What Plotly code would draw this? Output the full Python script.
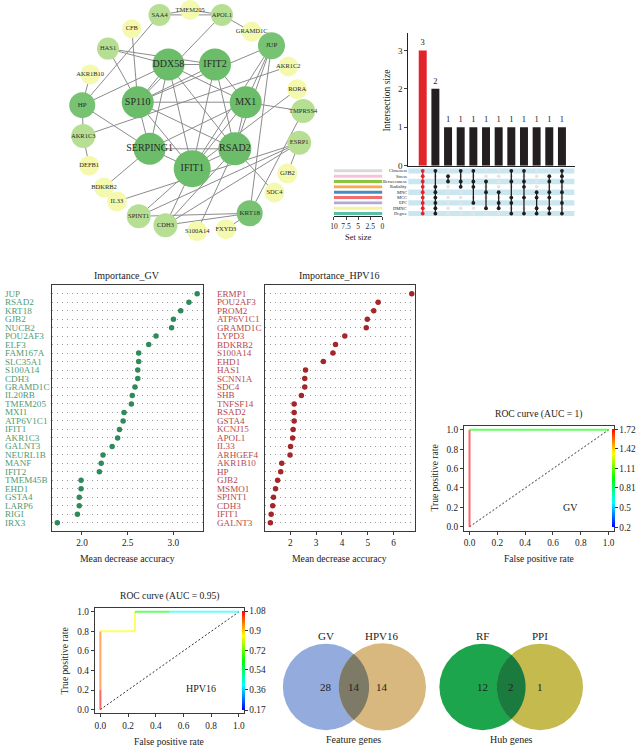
import numpy as np
import plotly.graph_objects as go
from plotly.colors import sample_colorscale

W, H = 640, 751
SERIF = "Liberation Serif"
INK = "#222222"

# ---------------- data ----------------
# PPI network (layout positions in panel pixels)
net_nodes = ["SAA4", "TMEM205", "APOL1", "CFB", "GRAMD1C", "HAS1", "JUP", "DDX58", "IFIT2",
             "AKR1B10", "AKR1C2", "RORA", "HP", "SP110", "MX1", "TMPRSS4", "AKR1C3", "SERPING1",
             "RSAD2", "ESRP1", "IFIT1", "DEFB1", "GJB2", "BDKRB2", "SDC4", "IL33", "SPINT1",
             "KRT18", "CDH3", "FXYD3", "S100A14"]
net_x = [157, 188, 220, 129, 250, 105, 270, 166, 213, 87, 287, 296, 79, 135, 244, 302, 80, 147,
         233, 298, 190, 86, 286, 101, 273, 114, 136, 248, 163, 224, 195]
net_y = [14, 9, 14, 28, 31, 48, 45, 64, 64, 74, 66, 89, 105, 102, 102, 111, 136, 149,
         149, 143, 169, 166, 174, 188, 193, 202, 217, 214, 226, 230, 232]
net_level = [1, 0, 1, 0, 0, 1, 2, 3, 3, 0, 0, 0, 2, 3, 3, 1, 1, 3, 3, 1, 3, 0, 0, 0, 0, 0, 1, 2, 1, 0, 0]
net_r = [11, 10, 11, 9.5, 10, 11, 13.5, 16, 16, 10, 10, 10, 13, 16, 16, 12, 12, 16,
         16.5, 12, 18.5, 10, 10, 10, 10, 10, 12, 13, 12, 10, 10]
net_edges = [
    ("SAA4", "TMEM205"), ("TMEM205", "APOL1"), ("SAA4", "APOL1"), ("APOL1", "GRAMD1C"),
    ("SAA4", "HP"), ("APOL1", "SP110"), ("CFB", "SP110"), ("HAS1", "IFIT2"), ("HAS1", "DDX58"),
    ("HAS1", "SP110"), ("AKR1B10", "HP"), ("HP", "DDX58"), ("HP", "SERPING1"), ("HP", "AKR1C3"),
    ("AKR1C3", "DEFB1"), ("AKR1C3", "AKR1C2"), ("JUP", "MX1"), ("JUP", "RSAD2"), ("JUP", "IFIT1"),
    ("JUP", "KRT18"), ("JUP", "SP110"), ("DDX58", "IFIT2"), ("DDX58", "SP110"), ("DDX58", "MX1"),
    ("DDX58", "RSAD2"), ("DDX58", "IFIT1"), ("DDX58", "SERPING1"), ("IFIT2", "SP110"),
    ("IFIT2", "MX1"), ("IFIT2", "RSAD2"), ("IFIT2", "IFIT1"), ("SP110", "MX1"), ("SP110", "RSAD2"),
    ("SP110", "IFIT1"), ("SP110", "SERPING1"), ("MX1", "TMPRSS4"), ("MX1", "RSAD2"),
    ("MX1", "IFIT1"), ("MX1", "SERPING1"), ("RORA", "IFIT1"), ("SERPING1", "RSAD2"),
    ("SERPING1", "IFIT1"), ("SERPING1", "BDKRB2"), ("RSAD2", "IFIT1"), ("RSAD2", "SDC4"),
    ("RSAD2", "S100A14"), ("RSAD2", "CDH3"), ("ESRP1", "SPINT1"), ("ESRP1", "CDH3"),
    ("ESRP1", "IL33"), ("TMPRSS4", "KRT18"), ("IFIT1", "SPINT1"), ("IFIT1", "CDH3"),
    ("SPINT1", "KRT18"), ("CDH3", "KRT18"), ("KRT18", "FXYD3"), ("GJB2", "ESRP1"),
]

# UpSet plot
upset_sets = ["Closeness", "Stress", "Betweenness", "Radiality", "MNC", "MCC", "EPC", "DMNC", "Degree"]
upset_set_size = [10, 10, 10, 10, 10, 10, 10, 10, 10]
upset_set_colors = ["#d9d9d9", "#f6c4da", "#8cc63f", "#f7a94c", "#4a8ac4", "#f26d6d",
                    "#b4a7d6", "#f7f2a0", "#58bfa5"]
upset_counts = [3, 2, 1, 1, 1, 1, 1, 1, 1, 1, 1, 1]
upset_members = [
    [0, 1, 2, 3, 4, 5, 6, 7, 8],
    [0, 3, 4, 5, 6, 7, 8],
    [1, 2],
    [0, 2, 3],
    [0, 2, 3, 6],
    [2, 4, 7],
    [4, 6, 7],
    [0, 2, 5, 6, 8],
    [0, 2, 3, 5, 8],
    [4, 5, 7, 8],
    [1, 2, 4, 5, 7, 8],
    [0, 1, 2, 4, 6, 8],
]

# Random forest importance
gv_genes = ["JUP", "RSAD2", "KRT18", "GJB2", "NUCB2", "POU2AF3", "ELF3", "FAM167A", "SLC35A1",
            "S100A14", "CDH3", "GRAMD1C", "IL20RB", "TMEM205", "MXI1", "ATP6V1C1", "IFIT1",
            "AKR1C3", "GALNT3", "NEURL1B", "MANF", "IFIT2", "TMEM45B", "EHD1", "GSTA4", "LARP6",
            "RIGI", "IRX3"]
gv_mda = [3.26, 3.17, 3.08, 3.00, 2.98, 2.81, 2.73, 2.62, 2.62, 2.61, 2.61, 2.58, 2.55, 2.54,
          2.46, 2.45, 2.41, 2.39, 2.33, 2.23, 2.21, 2.19, 1.99, 1.99, 1.97, 1.97, 1.95, 1.73]
hpv_genes = ["ERMP1", "POU2AF3", "PROM2", "ATP6V1C1", "GRAMD1C", "LYPD3", "BDKRB2", "S100A14",
             "EHD1", "HAS1", "SCNN1A", "SDC4", "SHB", "TNFSF14", "RSAD2", "GSTA4", "KCNJ15",
             "APOL1", "IL33", "ARHGEF4", "AKR1B10", "HP", "GJB2", "MSMO1", "SPINT1", "CDH3",
             "IFIT1", "GALNT3"]
hpv_mda = [6.70, 5.40, 5.23, 4.98, 4.94, 4.11, 3.75, 3.65, 3.28, 2.59, 2.56, 2.56, 2.43, 2.15,
           2.15, 2.15, 2.11, 2.09, 2.01, 1.99, 1.67, 1.63, 1.51, 1.43, 1.35, 1.32, 1.26, 1.23]

# ROC curves
roc_gv_fpr = [0, 0, 1]
roc_gv_tpr = [0, 1, 1]
roc_gv_cut = [1.72, 0.96, 0.2]
roc_gv_ticks = [0.2, 0.5, 0.81, 1.11, 1.42, 1.72]
roc_hpv_fpr = [0, 0, 0, 0.25, 0.25, 0.5, 1]
roc_hpv_tpr = [0, 0.2, 0.8, 0.8, 1, 1, 1]
roc_hpv_cut = [1.08, 0.98, 0.85, 0.85, 0.62, 0.40, 0.17]
roc_hpv_ticks = [0.17, 0.36, 0.54, 0.72, 0.9, 1.08]

# Venn diagrams
venn_feat_sets = ["GV", "HPV16"]
venn_feat_counts = [28, 14, 14]   # left only, both, right only
venn_hub_sets = ["RF", "PPI"]
venn_hub_counts = [12, 2, 1]

# ---------------- helpers ----------------
def xd(a, b):
    return [a / W, b / W]

def yd(top, bot):
    return [1 - bot / H, 1 - top / H]

anns = []
shapes = []

def note(text, x, y, size, color=INK, xanchor="center", yanchor="middle", angle=0,
         xref="paper", yref="paper"):
    anns.append(dict(text=text, x=x / W if xref == "paper" else x,
                     y=1 - y / H if yref == "paper" else y, xref=xref, yref=yref,
                     xanchor=xanchor, yanchor=yanchor, textangle=angle, showarrow=False,
                     borderpad=0, font=dict(family=SERIF, size=size, color=color)))

fig = go.Figure()
layout = dict(width=W, height=H, margin=dict(l=0, r=0, t=0, b=0), paper_bgcolor="white",
              plot_bgcolor="rgba(0,0,0,0)", showlegend=False, font=dict(family=SERIF, color=INK))

off = dict(visible=False, showgrid=False, zeroline=False)
layout["xaxis"] = dict(domain=[0, 1], range=[0, W], **off)
layout["yaxis"] = dict(domain=[0, 1], range=[H, 0], anchor="x", **off)

# ---------------- network ----------------
pos = {n: (x, y) for n, x, y in zip(net_nodes, net_x, net_y)}
ex, ey = [], []
for a, b in net_edges:
    ex += [pos[a][0], pos[b][0], None]
    ey += [pos[a][1], pos[b][1], None]
fig.add_trace(go.Scatter(x=ex, y=ey, mode="lines", line=dict(color="#8c8c8c", width=1),
                         hoverinfo="skip", xaxis="x", yaxis="y"))
level_colors = ["#f5f9ae", "#b6df93", "#77c373", "#6bbd69"]
level_font = [6.5, 6.5, 7, 10]
fig.add_trace(go.Scatter(
    x=net_x, y=net_y, mode="markers+text", text=net_nodes, textposition="middle center",
    marker=dict(size=[2 * r for r in net_r], color=[level_colors[l] for l in net_level],
                line=dict(width=0), opacity=1),
    textfont=dict(family=SERIF, size=[level_font[l] for l in net_level], color="#2a2a2a"),
    hoverinfo="text", xaxis="x", yaxis="y", cliponaxis=False))

# ---------------- UpSet ----------------
ncol = len(upset_counts)
cols = list(range(1, ncol + 1))
fig.add_trace(go.Bar(x=cols, y=upset_counts, width=0.63,
                     marker=dict(color=["#e3232a"] + ["#231f20"] * (ncol - 1), line=dict(width=0)),
                     text=[str(c) for c in upset_counts], textposition="outside",
                     textfont=dict(family=SERIF, size=8.5, color=INK), cliponaxis=False,
                     xaxis="x2", yaxis="y2"))
layout["xaxis2"] = dict(domain=xd(408, 576), range=[-0.15, 13], showline=True, linecolor=INK,
                        linewidth=1, showticklabels=False, ticks="", showgrid=False,
                        zeroline=False, anchor="y2")
layout["yaxis2"] = dict(domain=yd(32, 166), range=[0, 3.46], showline=True, linecolor=INK,
                        linewidth=1, ticks="outside", ticklen=3, tickvals=[0, 1, 2, 3],
                        tickfont=dict(size=9, family=SERIF), showgrid=False, zeroline=False,
                        anchor="x2")
note("Intersection size", 387, 100, 9.5, angle=-90)

layout["xaxis3"] = dict(domain=xd(408, 576), range=[-0.15, 13], anchor="y3", **off)
layout["yaxis3"] = dict(domain=yd(168.5, 217), range=[8.5, -0.5], anchor="x3", **off)
for i in range(0, len(upset_sets), 2):
    shapes.append(dict(type="rect", xref="x3", yref="y3", x0=-0.15, x1=13, y0=i - 0.5, y1=i + 0.5,
                       fillcolor="#c9e7f0", line=dict(width=0), layer="below"))
gx, gy = [], []
for c, mem in zip(cols, upset_members):
    for r in range(len(upset_sets)):
        if r not in mem:
            gx.append(c); gy.append(r)
fig.add_trace(go.Scatter(x=gx, y=gy, mode="markers", marker=dict(size=3.5, color="#e4e4e4"),
                         xaxis="x3", yaxis="y3", hoverinfo="skip"))
for c, mem in zip(cols, upset_members):
    colr = "#e3232a" if c == 1 else "#1e1e1e"
    fig.add_trace(go.Scatter(x=[c] * len(mem), y=mem, mode="lines+markers",
                             line=dict(color=colr, width=1.3), marker=dict(size=3.8, color=colr),
                             xaxis="x3", yaxis="y3", hoverinfo="skip"))
for r, name in enumerate(upset_sets):
    note(name, 408, 0, 4.5, xanchor="right", yref="y3")
    anns[-1]["y"] = r

fig.add_trace(go.Bar(y=list(range(len(upset_sets))), x=upset_set_size, orientation="h", width=0.55,
                     marker=dict(color=upset_set_colors, line=dict(width=0)),
                     xaxis="x4", yaxis="y4"))
layout["xaxis4"] = dict(domain=xd(333, 382), range=[10, 0], showline=True, linecolor=INK,
                        linewidth=1, ticks="outside", ticklen=3, tickvals=[10, 7.5, 5, 2.5, 0],
                        ticktext=["10", "7.5", "5", "2.5", "0"],
                        tickfont=dict(size=7.5, family=SERIF), showgrid=False, zeroline=False,
                        anchor="y4")
layout["yaxis4"] = dict(domain=yd(168.5, 217), range=[8.5, -0.5], anchor="x4", **off)
note("Set size", 357, 238, 8.5)

# ---------------- importance dot charts ----------------
def dotchart(idx, genes, vals, dom_x, rng, tickv, tickt, dot_col, lab_col, lab_x, title, title_x):
    n = len(genes)
    rows = list(range(1, n + 1))
    fig.add_trace(go.Scatter(x=vals, y=rows, mode="markers", marker=dict(size=5.5, color=dot_col),
                             xaxis=f"x{idx}", yaxis=f"y{idx}", hovertext=genes))
    layout[f"xaxis{idx}"] = dict(domain=xd(*dom_x), range=rng, showline=True, mirror=True,
                                 linecolor="#3a3a3a", linewidth=1, ticks="outside", ticklen=3,
                                 tickcolor="#3a3a3a", tickvals=tickv, ticktext=tickt,
                                 tickfont=dict(size=9.3, family=SERIF), showgrid=False,
                                 zeroline=False, anchor=f"y{idx}")
    layout[f"yaxis{idx}"] = dict(domain=yd(286.5, 534.5), range=[n + 1, 0], showline=True,
                                 mirror=True, linecolor="#3a3a3a", linewidth=1, tickvals=rows,
                                 showticklabels=False, ticks="", showgrid=True,
                                 gridcolor="#9a9a9a", griddash="1px,4px", gridwidth=1,
                                 zeroline=False, anchor=f"x{idx}")
    for r, g in zip(rows, genes):
        note(g, lab_x, 0, 9.1, color=lab_col, xanchor="left", yref=f"y{idx}")
        anns[-1]["y"] = r
    note(title, title_x, 277, 10)
    note("Mean decrease accuracy", title_x, 561.5, 9.7)

dotchart(5, gv_genes, gv_mda, (48, 201), [1.667, 3.325], [2, 2.5, 3], ["2.0", "2.5", "3.0"],
         "#2f8a5a", "#4f9a72", 0.5, "Importance_GV", 124.5)
dotchart(6, hpv_genes, hpv_mda, (263.3, 415), [1.015, 6.83], [2, 3, 4, 5, 6],
         ["2", "3", "4", "5", "6"], "#a3262a", "#b8484b", 214.5, "Importance_HPV16", 339)

# ---------------- ROC curves ----------------
rainbow = [[0, "#0000ff"], [0.25, "#00ffff"], [0.5, "#00ff00"], [0.75, "#ffff00"], [1, "#ff0000"]]

def roc(idx, cax, fpr, tpr, cut, ticks, dom_x, dom_y, label, label_xy, title, title_xy,
        cb_x, xt_xy, yt_xy):
    cmin, cmax = min(ticks), max(ticks)
    fig.add_trace(go.Scatter(x=[0, 1], y=[0, 1], mode="lines",
                             line=dict(color="#333", width=1, dash="2px,2px"),
                             xaxis=f"x{idx}", yaxis=f"y{idx}", hoverinfo="skip"))
    for i in range(len(fpr) - 1):
        t = (cut[i] - cmin) / (cmax - cmin)
        col = sample_colorscale(rainbow, [min(max(t, 0), 1)])[0]
        fig.add_trace(go.Scatter(x=[fpr[i], fpr[i + 1]], y=[tpr[i], tpr[i + 1]], mode="lines",
                                 line=dict(color=col, width=2), opacity=0.6,
                                 xaxis=f"x{idx}", yaxis=f"y{idx}", hoverinfo="skip"))
    fig.add_trace(go.Scatter(x=fpr, y=tpr, mode="markers",
                             marker=dict(color=cut, coloraxis=cax, size=1, opacity=0),
                             xaxis=f"x{idx}", yaxis=f"y{idx}", hoverinfo="skip"))
    tv = [0, 0.2, 0.4, 0.6, 0.8, 1.0]
    common = dict(range=[-0.04, 1.04], showline=True, mirror=True, linecolor="#3a3a3a",
                  linewidth=1, ticks="outside", ticklen=3, tickcolor="#3a3a3a", tickvals=tv,
                  ticktext=[f"{v:.1f}" for v in tv], tickfont=dict(size=9.3, family=SERIF),
                  showgrid=False, zeroline=False)
    layout[f"xaxis{idx}"] = dict(domain=xd(*dom_x), anchor=f"y{idx}", **common)
    layout[f"yaxis{idx}"] = dict(domain=yd(*dom_y), anchor=f"x{idx}", **common)
    top = dom_y[0] + 0.04 / 1.08 * (dom_y[1] - dom_y[0])
    bot = dom_y[1] - 0.04 / 1.08 * (dom_y[1] - dom_y[0])
    layout[cax] = dict(colorscale=rainbow, cmin=cmin, cmax=cmax, colorbar=dict(
        x=cb_x / W, xanchor="left", xref="paper", y=1 - (top + bot) / 2 / H, yanchor="middle",
        yref="paper", len=bot - top, lenmode="pixels", thickness=2.5, xpad=0, ypad=0,
        outlinewidth=0, ticks="outside", ticklen=3, tickcolor="#333", tickvals=ticks,
        ticktext=[f"{v:g}" for v in ticks], tickfont=dict(size=9.3, family=SERIF, color=INK)))
    note(label, *label_xy, 10)
    note(title, *title_xy, 9.6)
    note("False positive rate", *xt_xy, 9.6)
    note("True positive rate", *yt_xy, 9.6, angle=-90)

roc(7, "coloraxis", roc_gv_fpr, roc_gv_tpr, roc_gv_cut, roc_gv_ticks, (464.3, 616),
    (428.4, 533.9), "GV", (572, 511), "ROC curve (AUC = 1)", (540, 416.5), 613.5,
    (540, 561.5), (434.5, 481))
roc(8, "coloraxis2", roc_hpv_fpr, roc_hpv_tpr, roc_hpv_cut, roc_hpv_ticks, (91.7, 242.7),
    (611.8, 718.2), "HPV16", (199, 693), "ROC curve (AUC = 0.95)", (167, 600), 240.5,
    (167, 746), (61.5, 665))

# ---------------- Venn diagrams ----------------
def circle_shape(cx, cy, r, col):
    shapes.append(dict(type="circle", xref="x", yref="y", x0=cx - r, x1=cx + r, y0=cy - r,
                       y1=cy + r, fillcolor=col, line=dict(width=0), layer="above"))

def lens(c1, c2, r1, r2, cy, col, n=48):
    d = c2 - c1
    a = (d * d + r1 * r1 - r2 * r2) / (2 * d)
    h = np.sqrt(r1 * r1 - a * a)
    t1 = np.arctan2(h, a)
    t2 = np.arctan2(h, d - a)
    pts = [(c1 + r1 * np.cos(t), cy + r1 * np.sin(t)) for t in np.linspace(-t1, t1, n)]
    pts += [(c2 + r2 * np.cos(t), cy + r2 * np.sin(t)) for t in np.linspace(np.pi - t2, np.pi + t2, n)]
    path = "M " + " L ".join(f"{x:.2f},{y:.2f}" for x, y in pts) + " Z"
    shapes.append(dict(type="path", xref="x", yref="y", path=path, fillcolor=col,
                       line=dict(width=0), layer="above"))

def venn(names, counts, c1, c2, r1, r2, cy, colors, caption, cap_x):
    circle_shape(c1, cy, r1, colors[0])
    circle_shape(c2, cy, r2, colors[2])
    lens(c1, c2, r1, r2, cy, colors[1])
    mid = ((c2 - r2) + (c1 + r1)) / 2
    note(names[0], c1, 640, 11)
    note(names[1], c2, 640, 11)
    note(str(counts[0]), c1, 692, 11)
    note(str(counts[1]), mid, 692, 11)
    note(str(counts[2]), c2, 692, 11)
    note(caption, cap_x, 744, 10)

venn(venn_feat_sets, venn_feat_counts, 325, 382, 43.5, 44, 691.5,
     ["#94abde", "#7d7a67", "#d8b87e"], "Feature genes", 353)
venn(venn_hub_sets, venn_hub_counts, 483, 541, 43.5, 43.5, 691.5,
     ["#1ca54c", "#1b7a3d", "#c5ba4e"], "Hub genes", 512)

layout["annotations"] = anns
layout["shapes"] = shapes
fig.update_layout(**layout)
fig.write_html("out.html")
